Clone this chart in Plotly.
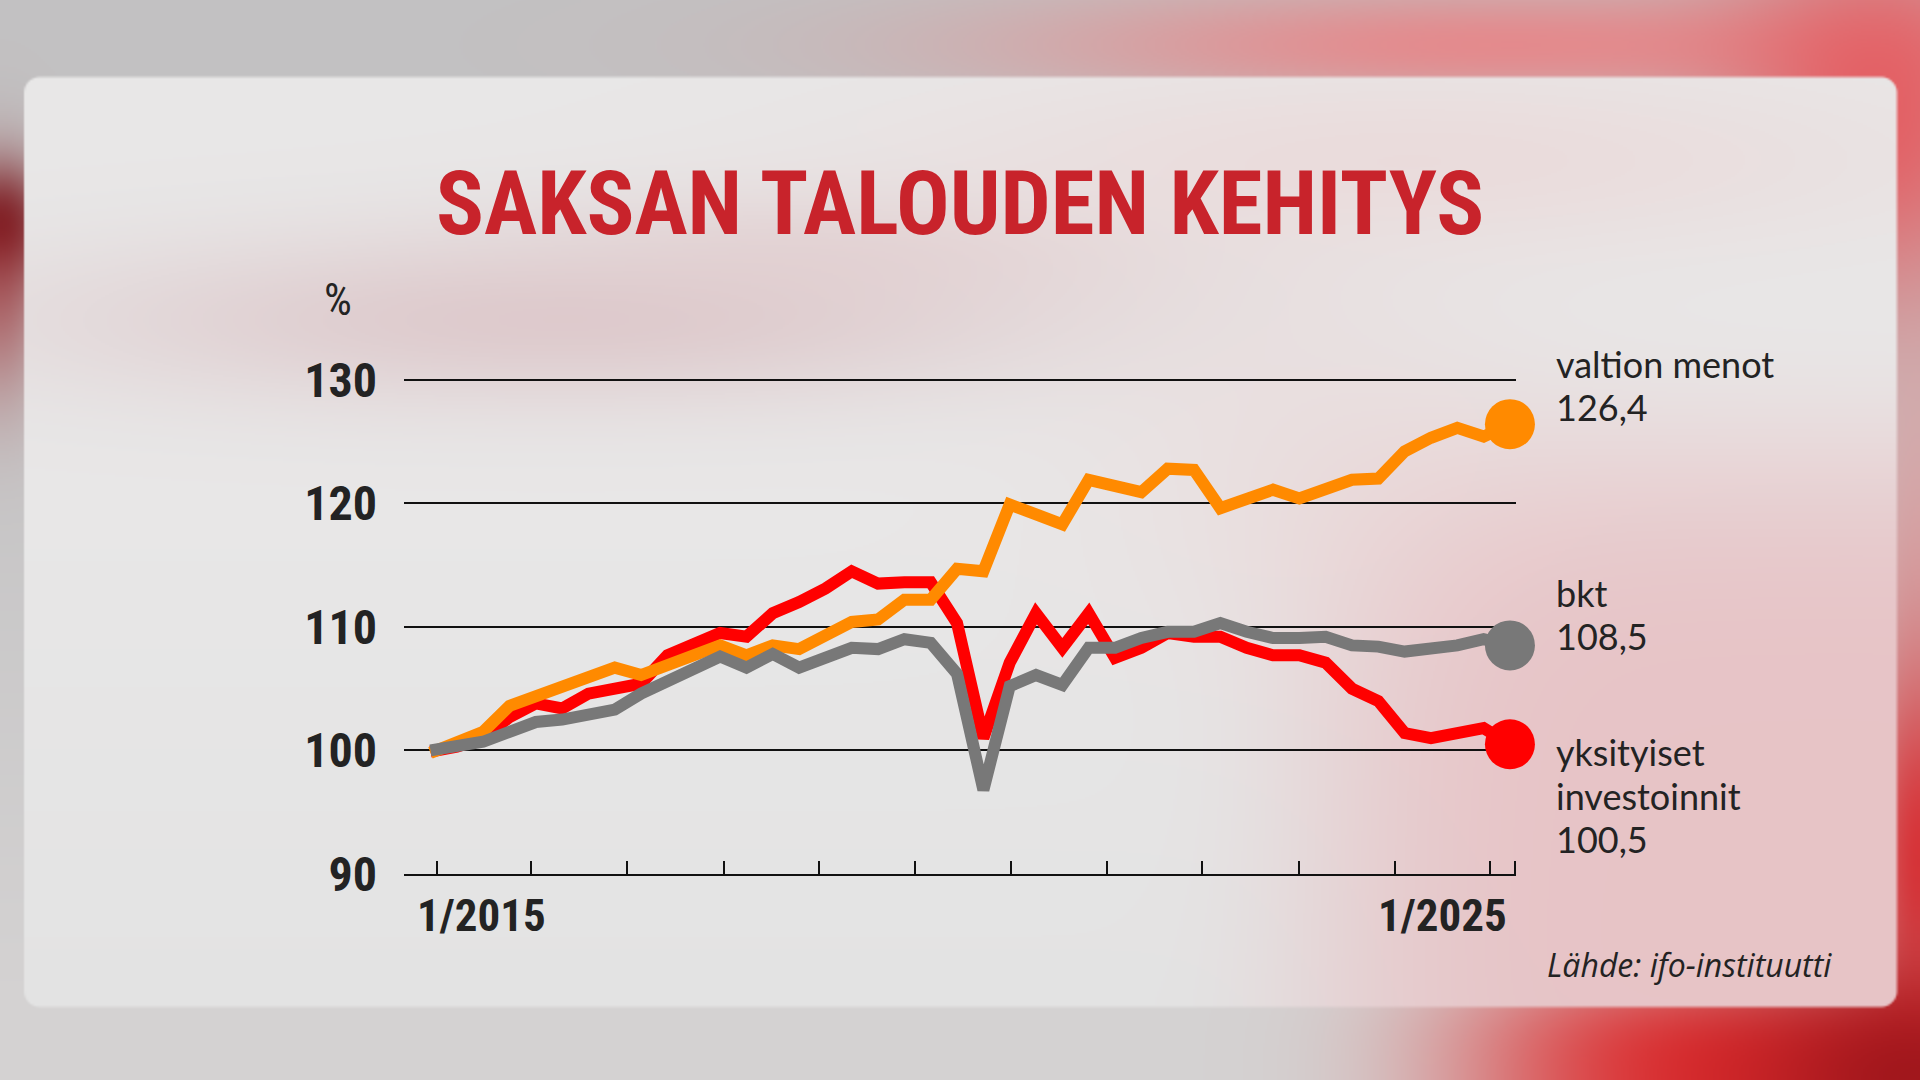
import base64
import struct
import zlib

import numpy as np
import plotly.graph_objects as go

# ---------------- data (index 2015 Q1 = 100) ----------------
quarters = [f"{q}/{y}" for y in range(2015, 2026) for q in range(1, 5)][:42]  # 1/2015 .. 2/2025
quarter_index = list(range(len(quarters)))

bkt = [100.0, 100.4, 100.7, 101.5, 102.3, 102.5, 102.9, 103.3, 104.6, 105.6,
       106.5, 107.6, 106.7, 107.8, 106.7, 107.5, 108.3, 108.2, 109.0, 108.7,
       106.2, 96.8, 105.2, 106.1, 105.3, 108.3, 108.3, 109.1, 109.6, 109.6,
       110.3, 109.6, 109.1, 109.1, 109.2, 108.5, 108.4, 108.0, 108.2, 108.5,
       109.0, 108.5]

valtion_menot = [99.8, 100.6, 101.5, 103.6, 104.4, 105.3, 105.9, 106.7, 106.1, 106.9,
                 107.6, 108.5, 107.7, 108.5, 108.2, 109.2, 110.4, 110.6, 112.2, 112.2,
                 114.7, 114.5, 119.9, 119.1, 118.3, 121.9, 121.4, 120.9, 122.8, 122.7,
                 119.6, 120.3, 121.1, 120.4, 121.2, 121.9, 122.0, 124.2, 125.3, 126.1,
                 125.4, 126.4]

yksityiset_investoinnit = [99.9, 100.3, 101.0, 102.7, 103.8, 103.4, 104.6, 105.0, 105.4, 107.7,
                           108.7, 109.5, 109.2, 111.1, 112.0, 113.1, 114.5, 113.5, 113.6, 113.6,
                           110.3, 101.0, 107.1, 111.1, 108.3, 111.1, 107.5, 108.3, 109.5, 109.2,
                           109.2, 108.3, 107.7, 107.7, 107.1, 105.0, 104.0, 101.4, 101.0, 101.3,
                           101.8, 100.5]

y_ticks = [90, 100, 110, 120, 130]
x_tick_positions = [0.25, 3.82, 7.46, 11.15, 14.75, 18.4, 22.05, 25.69, 29.3, 32.98, 36.63, 40.24, 41.19]

# ---------------- geometry ----------------
W, H = 1920, 1080
ML, MR, MT, MB = 404, 404, 355, 206
PW, PH = W - ML - MR, H - MT - MB


def px(x):
    return (x - ML) / PW


def py(y):
    return (H - MB - y) / PH


# ---------------- blurred photo-like background (decoration) ----------------
def make_background():
    bw, bh = 960, 540
    yy, xx = np.mgrid[0:bh, 0:bw].astype(float)
    X = (xx + 0.5) * W / bw
    Y = (yy + 0.5) * H / bh

    def g(cx, cy, rx, ry, p=2.0):
        return np.exp(-((np.abs(X - cx) / rx) ** p + (np.abs(Y - cy) / ry) ** p))

    def mix(img, col, w):
        img += (np.array(col, float)[None, None, :] - img) * np.clip(w, 0, 1)[..., None]

    out = np.zeros((bh, bw, 3))
    out[:] = (194, 193, 194)
    mix(out, (212, 210, 210), np.clip((Y - 300) / 700, 0, 1))
    mix(out, (236, 125, 128), 0.8 * g(1500, 45, 480, 60))
    mix(out, (232, 80, 85), 0.85 * g(1880, 120, 160, 200))
    mix(out, (110, 22, 28), 0.95 * g(0, 225, 50, 60))
    mix(out, (160, 40, 45), 0.55 * g(0, 290, 45, 110))
    mix(out, (225, 150, 152), 0.5 * g(1920, 520, 60, 200))
    mix(out, (215, 35, 40), 0.9 * g(1920, 860, 60, 220))
    mix(out, (222, 38, 40), 0.97 * g(1780, 1080, 320, 115, 3.0))
    mix(out, (150, 18, 24), 0.85 * g(1920, 1080, 170, 110))

    inside = np.zeros((bh, bw, 3))
    inside[:] = (232, 231, 231)
    mix(inside, (227, 227, 227), np.clip((Y - 500) / 500, 0, 1))
    mix(inside, (219, 195, 198), 0.8 * g(560, 320, 520, 85))
    mix(inside, (224, 200, 202), 0.5 * g(850, 250, 320, 60))
    mix(inside, (236, 212, 212), 0.6 * g(1420, 160, 500, 90))
    mix(inside, (231, 192, 195), 0.9 * g(1780, 840, 470, 400, 5.0))
    mix(inside, (236, 214, 214), 0.4 * g(1300, 470, 220, 180))

    # rounded card mask
    x0, y0, x1, y1, r = 24, 77, 1897, 1007, 16
    dx = np.maximum(np.maximum(x0 + r - X, X - (x1 - r)), 0)
    dy = np.maximum(np.maximum(y0 + r - Y, Y - (y1 - r)), 0)
    dist_out = np.sqrt(dx ** 2 + dy ** 2) - r
    inner = np.minimum(np.minimum(X - x0, x1 - X), np.minimum(Y - y0, y1 - Y))
    sd = np.where((dx > 0) | (dy > 0), dist_out, -inner)
    m = np.clip(0.5 - sd / 2.0, 0, 1)[..., None]
    img = inside * m + out * (1 - m)
    arr = np.clip(np.round(img), 0, 255).astype(np.uint8)

    a = arr.astype(np.int16)
    d = a.copy()
    d[:, 1:, :] = a[:, 1:, :] - a[:, :-1, :]
    d = (d % 256).astype(np.uint8)
    raw = np.concatenate([np.ones((bh, 1), np.uint8), d.reshape(bh, bw * 3)], axis=1).tobytes()

    def chunk(t, data):
        return struct.pack(">I", len(data)) + t + data + struct.pack(">I", zlib.crc32(t + data) & 0xFFFFFFFF)

    png = (b"\x89PNG\r\n\x1a\n"
           + chunk(b"IHDR", struct.pack(">IIBBBBB", bw, bh, 8, 2, 0, 0, 0))
           + chunk(b"IDAT", zlib.compress(raw, 9))
           + chunk(b"IEND", b""))
    return "data:image/png;base64," + base64.b64encode(png).decode()


# ---------------- figure ----------------
BOLD = "Liberation Sans Narrow, Roboto Condensed, Roboto, sans-serif"
LABEL = "Lato, Open Sans, sans-serif"
TXT = "#232323"

series = [
    ("yksityiset investoinnit", yksityiset_investoinnit, "#ff0000"),
    ("valtion menot", valtion_menot, "#ff8a00"),
    ("bkt", bkt, "#787878"),
]

fig = go.Figure()
n = len(quarter_index)
for name, vals, col in series:
    fig.add_trace(go.Scatter(
        x=quarter_index, y=vals, name=name, mode="lines+markers",
        line=dict(color=col, width=12, shape="linear"),
        marker=dict(color=col, size=[0] * (n - 1) + [50], opacity=1, line=dict(width=0)),
        text=quarters, hovertemplate="%{text}: %{y:.1f}<extra>" + name + "</extra>",
        cliponaxis=False, showlegend=False,
    ))

fig.update_xaxes(
    range=[-1.006, 41.23], showgrid=False, zeroline=False,
    showline=True, linecolor="#111111", linewidth=2,
    ticks="inside", tickvals=x_tick_positions, ticklen=13, tickwidth=2, tickcolor="#111111",
    showticklabels=False, fixedrange=True,
)
fig.update_yaxes(
    range=[90, 132], tickvals=y_ticks, ticktext=[str(v) for v in y_ticks],
    showgrid=True, gridcolor="#111111", gridwidth=1.6, zeroline=False, showline=False,
    ticks="", ticklabelstandoff=26,
    tickfont=dict(family=BOLD, size=48, color=TXT, weight="bold"), fixedrange=True,
)

annotations = [
    dict(text="SAKSAN TALOUDEN KEHITYS", x=px(960), y=py(203), xanchor="center", yanchor="middle",
         font=dict(family=BOLD, size=89, color="#c8232b", weight="bold")),
    dict(text="%", x=px(338), y=py(300), xanchor="center", yanchor="middle",
         font=dict(family=BOLD, size=44, color=TXT)),
    dict(text="1/2015", x=px(481), y=py(915), xanchor="center", yanchor="middle",
         font=dict(family=BOLD, size=45, color=TXT, weight="bold")),
    dict(text="1/2025", x=px(1442), y=py(915), xanchor="center", yanchor="middle",
         font=dict(family=BOLD, size=45, color=TXT, weight="bold")),
    dict(text="Lähde: ifo-instituutti", x=px(1834), y=py(964), xanchor="right", yanchor="middle",
         font=dict(family="Open Sans, Lato, sans-serif", size=32, color=TXT, style="italic")),
]
label_lines = [
    ("valtion menot", 364), (f"{valtion_menot[-1]:.1f}".replace(".", ","), 407),
    ("bkt", 593), (f"{bkt[-1]:.1f}".replace(".", ","), 636),
    ("yksityiset", 752), ("investoinnit", 796),
    (f"{yksityiset_investoinnit[-1]:.1f}".replace(".", ","), 839),
]
for txt, yy in label_lines:
    annotations.append(dict(text=txt, x=px(1554), y=py(yy), xanchor="left", yanchor="middle",
                            font=dict(family=LABEL, size=36, color=TXT)))
for a in annotations:
    a.update(xref="paper", yref="paper", showarrow=False)

fig.update_layout(
    width=W, height=H,
    margin=dict(l=ML, r=MR, t=MT, b=MB, pad=0),
    paper_bgcolor="#c8c8c8", plot_bgcolor="rgba(0,0,0,0)",
    annotations=annotations,
    images=[dict(source=make_background(), xref="paper", yref="paper",
                 x=px(0), y=py(0), sizex=W / PW, sizey=H / PH,
                 xanchor="left", yanchor="top", sizing="stretch", layer="below")],
    hovermode="closest",
)

fig.write_html("out.html", config={"displayModeBar": False},
               post_script="document.body.style.margin='0';document.body.style.overflow='hidden';")
